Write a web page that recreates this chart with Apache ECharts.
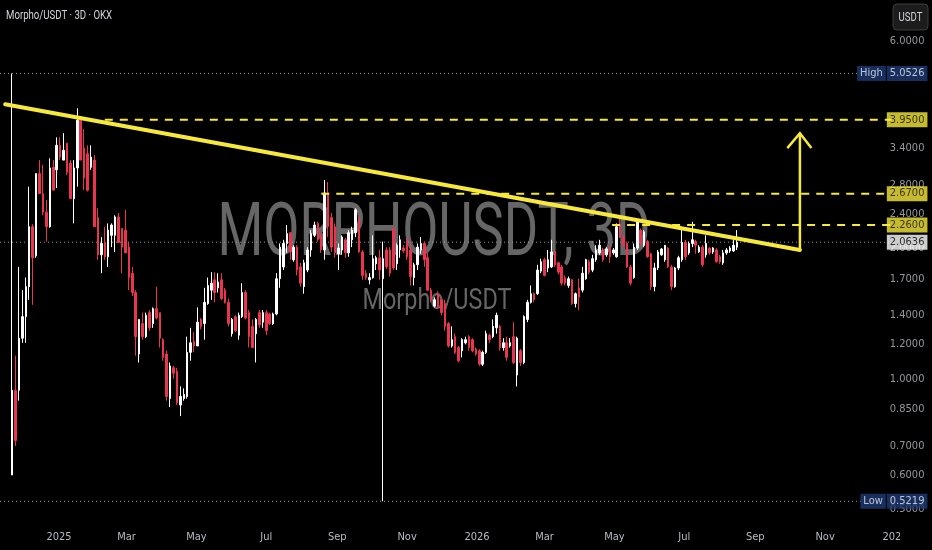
<!DOCTYPE html>
<html><head><meta charset="utf-8">
<script src="https://cdn.jsdelivr.net/npm/echarts@6/dist/echarts.min.js"></script>
<style>html,body{margin:0;padding:0;background:#000;}#c{width:932px;height:550px;}</style>
</head><body><div id="c"></div>
<script>
// ---------- data ----------
const startDate = '2024-11-21';
const stepDays = 3;
const opens = [
0.60,0.94,0.94,1.24,1.39,1.63,2.24,1.92,2.97,2.67,
2.42,2.24,3.07,3.03,3.45,3.19,3.49,3.14,2.60,3.06,
3.94,3.40,3.30,3.07,3.19,2.35,1.93,2.06,1.91,2.14,
2.14,2.36,2.22,2.20,2.01,1.75,1.58,1.14,1.34,1.25,
1.42,1.34,1.45,1.42,1.23,1.14,0.90,1.06,1.04,0.87,
0.90,0.91,1.15,1.22,1.19,1.37,1.34,1.49,1.60,1.69,
1.62,1.69,1.60,1.50,1.27,1.39,1.26,1.39,
1.58,1.42,1.32,1.27,1.42,1.35,1.42,1.41,1.34,1.41,
1.70,1.81,2.05,2.17,1.88,2.01,1.81,1.63,1.78,1.98,
2.14,2.28,2.14,1.98,2.68,2.35,
2.24,1.94,1.98,2.09,1.95,2.09,2.17,2.34,1.96,1.75,
1.69,1.71,1.84,1.90,1.70,1.98,1.98,2.22,1.84,1.98,
2.00,2.09,1.98,1.71,1.83,1.98,
2.05,1.90,1.60,1.47,1.57,1.52,1.49,1.34,1.19,1.25,
1.18,1.16,1.21,1.25,1.23,1.17,1.16,1.08,1.15,1.26,
1.25,1.31,
1.32,1.18,1.21,1.19,1.25,1.02,1.16,1.09,1.37,1.50,
1.57,1.57,1.77,1.88,1.80,1.81,1.96,1.85,1.81,1.71,
1.64,1.69,1.49,1.62,1.60,1.70,1.86,1.78,1.88,1.95,
1.98,1.93,2.00,1.95,1.91,2.26,2.12,2.05,1.81,1.71,
2.00,2.20,2.03,2.07,1.94,1.63,1.80,1.93,1.88,2.00,
1.81,1.63,1.80,1.88,2.06,1.95,2.05,2.07,1.96,2.01,
1.93,2.00,1.96,1.98,1.91,1.85,1.95,1.97,1.97,2.01];
const closes = [
0.94,0.72,1.24,1.39,1.63,2.24,1.90,2.97,2.67,2.42,
2.24,3.06,2.72,3.45,3.24,3.36,2.99,2.60,3.06,3.94,
3.19,2.90,2.72,3.24,2.24,1.93,2.05,1.91,2.20,2.26,
2.36,2.06,2.01,1.95,1.71,1.58,1.25,1.37,1.25,1.40,
1.31,1.45,1.38,1.24,1.12,0.91,1.07,1.03,0.88,0.91,
0.92,1.15,1.21,1.19,1.35,1.32,1.50,1.64,1.66,1.58,
1.67,1.53,1.50,1.34,1.37,1.29,1.40,1.58,
1.38,1.25,1.18,1.37,1.33,1.42,1.29,1.34,1.41,1.70,
2.01,2.05,2.16,1.96,2.01,1.78,1.66,1.85,1.98,2.16,
2.26,2.09,1.98,2.68,2.24,2.01,
1.95,2.00,2.12,1.95,2.17,2.20,2.45,1.96,1.73,1.71,
1.71,1.89,1.90,1.78,1.89,1.81,1.75,1.80,2.03,2.09,
1.97,1.91,1.72,1.83,2.01,2.05,
1.88,1.60,1.52,1.52,1.47,1.42,1.32,1.19,1.23,1.15,
1.10,1.23,1.23,1.18,1.16,1.14,1.08,1.15,1.27,1.23,
1.32,1.40,
1.18,1.21,1.12,1.21,1.09,1.24,1.09,1.39,1.50,1.57,
1.52,1.78,1.86,1.73,1.88,1.96,1.83,1.76,1.66,1.66,
1.70,1.49,1.57,1.54,1.75,1.88,1.76,1.89,1.98,2.03,
1.88,1.99,1.91,1.98,2.24,2.12,2.03,1.81,1.66,2.01,
2.30,2.05,2.18,1.91,1.63,1.80,1.96,1.99,2.03,1.81,
1.63,1.80,1.90,2.06,1.91,2.05,2.09,2.03,2.01,1.83,
2.05,1.95,2.00,1.86,1.86,1.95,1.98,2.00,2.03,2.0636];
const lows = [
0.60,0.70,0.89,1.21,1.21,1.52,1.48,1.90,2.67,2.38,
2.07,2.23,2.72,2.75,3.19,3.19,2.95,2.60,2.28,2.77,
3.19,2.72,2.70,3.03,2.24,1.88,1.75,1.88,1.81,2.01,
1.96,2.06,1.75,1.95,1.60,1.55,1.13,1.09,1.23,1.24,
1.29,1.31,1.37,1.18,1.10,0.89,0.86,1.00,0.87,0.82,
0.89,0.90,1.10,1.15,1.19,1.30,1.23,1.48,1.52,1.50,
1.58,1.52,1.49,1.32,1.25,1.28,1.23,1.38,
1.37,1.18,1.18,1.09,1.31,1.31,1.26,1.33,1.33,1.40,
1.62,1.78,1.95,1.88,1.86,1.73,1.63,1.57,1.76,1.91,
2.12,2.07,1.95,1.88,2.12,1.96,
1.90,1.78,1.93,1.90,1.91,2.01,2.12,1.95,1.69,1.69,
1.65,1.70,1.78,1.69,0.5219,1.79,1.72,1.78,1.78,1.90,
1.95,1.88,1.64,1.64,1.78,1.94,
1.81,1.59,1.50,1.46,1.45,1.40,1.29,1.18,1.18,1.14,
1.09,1.12,1.20,1.16,1.15,1.13,1.07,1.07,1.14,1.21,
1.24,1.27,
1.16,1.16,1.10,1.18,1.08,0.96,1.07,1.08,1.35,1.49,
1.50,1.56,1.75,1.72,1.76,1.80,1.81,1.74,1.64,1.64,
1.62,1.48,1.46,1.44,1.58,1.69,1.74,1.76,1.86,1.93,
1.86,1.91,1.85,1.93,1.90,2.11,2.01,1.80,1.64,1.70,
1.98,2.03,2.01,1.90,1.60,1.59,1.78,1.92,1.86,1.80,
1.60,1.62,1.78,1.86,1.88,1.93,2.01,1.94,1.95,1.81,
1.90,1.93,1.94,1.85,1.84,1.83,1.93,1.95,1.96,1.98];
const highs = [
5.0526,1.13,1.81,1.60,1.71,2.77,2.27,2.97,3.19,3.11,
2.58,3.22,3.19,3.60,3.60,3.68,3.49,3.19,3.19,4.20,
4.00,3.76,3.45,3.45,3.28,2.47,2.12,2.24,2.28,2.28,
2.38,2.41,2.22,2.45,2.06,1.81,1.60,1.37,1.42,1.42,
1.44,1.46,1.63,1.42,1.24,1.16,1.09,1.07,1.06,0.96,
0.95,1.25,1.31,1.28,1.46,1.38,1.62,1.71,1.76,1.76,
1.75,1.75,1.62,1.53,1.38,1.40,1.42,1.66,
1.60,1.44,1.37,1.38,1.44,1.44,1.44,1.42,1.42,1.75,
2.05,2.09,2.26,2.17,2.03,2.03,1.85,1.88,2.01,2.20,
2.30,2.30,2.16,2.87,2.84,2.41,
2.28,2.05,2.14,2.11,2.20,2.24,2.47,2.36,1.98,1.78,
1.75,2.14,1.92,1.98,2.07,2.01,2.01,2.24,2.05,2.14,
2.03,2.11,2.05,1.85,2.05,2.12,
2.07,1.95,1.62,1.54,1.59,1.53,1.52,1.35,1.32,1.27,
1.19,1.24,1.25,1.26,1.24,1.18,1.17,1.16,1.29,1.27,
1.37,1.42,
1.33,1.24,1.25,1.24,1.35,1.25,1.17,1.40,1.52,1.64,
1.58,1.83,1.89,1.90,1.98,2.09,1.98,1.86,1.83,1.73,
1.72,1.70,1.58,1.70,1.81,1.89,1.88,1.93,2.03,2.09,
2.00,2.01,2.03,2.00,2.28,2.34,2.14,2.07,1.83,2.05,
2.32,2.22,2.20,2.09,1.95,1.85,1.98,2.00,2.03,2.01,
1.83,1.81,1.92,2.22,2.09,2.07,2.30,2.09,2.03,2.03,
2.14,2.01,2.01,2.00,1.93,1.98,2.00,2.02,2.09,2.20];

const tickValues = [6.0, 3.4, 2.8, 2.4, 2.0, 1.7, 1.4, 1.2, 1.0, 0.85, 0.7, 0.6, 0.5];
const monthLabels = ['2025','Mar','May','Jul','Sep','Nov','2026','Mar','May','Jul','Sep','Nov','2027'];
const monthDates = ['2025-01-01','2025-03-01','2025-05-01','2025-07-01','2025-09-01','2025-11-01',
                    '2026-01-01','2026-03-01','2026-05-01','2026-07-01','2026-09-01','2026-11-01','2027-01-01'];
const highValue = 5.0526;
const lowValue = 0.5219;
const lastValue = 2.0636;
const levelValues = [3.95, 2.67, 2.26];
const levelStarts = ['2025-02-10', '2025-08-18', '2026-04-29'];
const trendDates = ['2024-11-15', '2026-10-10'];
const trendValues = [4.29, 1.98];
const arrowDates = ['2026-10-10', '2026-10-10'];
const arrowValues = [1.98, 3.68];
const arrowHeadDates = ['2026-09-29', '2026-10-10', '2026-10-20'];
const arrowHeadValues = [3.40, 3.68, 3.40];

// ---------- layout / style ----------
const T = s => Date.parse(s.length > 10 ? s : s + 'T00:00:00Z');
const DAY = 86400000;
const X_MIN = T('2024-11-10T12:00:00Z');
const X_MAX = T('2027-02-02T08:00:00Z');
const Y_MIN = 0.4725, Y_MAX = 7.46;
const LABEL_X = T('2027-01-29T19:00:00Z');
const LEVEL_END = T('2026-12-29');
const HL_END = T('2026-12-08');
const LAST_END = T('2026-12-30');
const UP = '#ffffff', DOWN = '#ea3550', YEL = '#f7e93a';
const AXIS_TXT = '#b8bbc2';
const FONT = "'Liberation Sans Narrow','DejaVu Sans Condensed',Roboto,sans-serif";

const t0 = T(startDate);
const candleData = opens.map((o, i) => [t0 + i * stepDays * DAY, o, closes[i], lows[i], highs[i]]);

const hline = (v, x0, x1) => [[x0, v], [x1, v]];
const series = [];

series.push({
  type: 'candlestick', name: 'MORPHOUSDT', data: candleData,
  encode: { x: 0, y: [1, 2, 3, 4] },
  barWidth: 2, z: 2,
  itemStyle: { color: UP, color0: DOWN, borderColor: UP, borderColor0: DOWN, borderWidth: 1 }
});

// time-axis labels (placed at month dates through the x scale)
series.push({
  type: 'line', data: [], silent: true, z: 5,
  markLine: {
    silent: true, symbol: 'none', animation: false,
    lineStyle: { color: 'rgba(0,0,0,0)', width: 1, type: 'solid' },
    label: { show: true, position: 'start', distance: 12, color: AXIS_TXT, fontSize: 11, fontFamily: FONT,
             formatter: p => monthLabels[p.dataIndex] },
    data: monthDates.map(d => [{ coord: [T(d), Y_MIN] }, { coord: [T(d), Y_MAX] }])
  }
});

// dotted reference lines
[[highValue, HL_END], [lowValue, HL_END], [lastValue, LAST_END]].forEach(([v, e]) => {
  series.push({ type: 'line', data: hline(v, X_MIN, e), symbol: 'none', silent: true, z: 1,
    lineStyle: { color: '#9a9a9a', width: 1, type: [1, 3] } });
});
// yellow dashed levels
levelValues.forEach((v, i) => {
  series.push({ type: 'line', data: hline(v, T(levelStarts[i]), LEVEL_END), symbol: 'none', silent: true, z: 3,
    lineStyle: { color: YEL, width: 2, type: [8, 7] } });
});
// trend line
series.push({ type: 'line', data: trendDates.map((d, i) => [T(d), trendValues[i]]), symbol: 'none', silent: true, z: 4,
  lineStyle: { color: YEL, width: 4, cap: 'round' } });
// arrow
series.push({ type: 'line', data: arrowDates.map((d, i) => [T(d), arrowValues[i]]), symbol: 'none', silent: true, z: 4,
  lineStyle: { color: YEL, width: 2.5 } });
series.push({ type: 'line', data: arrowHeadDates.map((d, i) => [T(d), arrowHeadValues[i]]), symbol: 'none', silent: true, z: 4,
  lineStyle: { color: YEL, width: 2.5, join: 'miter' } });

// price-axis tick labels
series.push({
  type: 'scatter', silent: true, z: 5, symbolSize: 1, itemStyle: { color: 'transparent' },
  data: tickValues.map(v => [LABEL_X, v]),
  label: { show: true, position: 'left', distance: 0, padding: [2, 3], color: AXIS_TXT, fontSize: 11, fontFamily: FONT,
           formatter: p => p.value[1].toFixed(4) }
});
// highlighted price boxes
const boxItems = [];
levelValues.forEach(v => boxItems.push({ value: [LABEL_X, v],
  label: { backgroundColor: YEL, color: '#111', formatter: v.toFixed(4) } }));
boxItems.push({ value: [LABEL_X, lastValue], label: { backgroundColor: '#ffffff', color: '#000', formatter: lastValue.toFixed(4) } });
const navy = { backgroundColor: '#1e3a74', color: '#e3e8f2', padding: [2, 3], fontSize: 11, fontFamily: FONT, lineHeight: 11 };
[['High', highValue], ['Low', lowValue]].forEach(([tag, v]) => boxItems.push({ value: [LABEL_X, v],
  label: { formatter: '{t|' + tag + '}{g|}{v|' + v.toFixed(4) + '}', padding: 0,
           rich: { t: navy, g: { width: 1, height: 15 }, v: navy } } }));
series.push({
  type: 'scatter', silent: true, z: 6, symbolSize: 1, itemStyle: { color: 'transparent' },
  data: boxItems,
  label: { show: true, position: 'left', distance: 0, padding: [2, 3], fontSize: 11, fontFamily: FONT, lineHeight: 11 }
});

const chart = echarts.init(document.getElementById('c'), null, { renderer: 'canvas' });
chart.setOption({
  backgroundColor: '#000',
  animation: false,
  grid: { left: 0, right: 0, top: 0, bottom: 30, containLabel: false },
  xAxis: { type: 'time', min: X_MIN, max: X_MAX, show: false },
  yAxis: { type: 'log', logBase: 10, min: Y_MIN, max: Y_MAX, show: false },
  series: series,
  graphic: [
    { type: 'text', x: 434, y: 236, scaleX: 0.70, z: 0, silent: true,
      style: { text: 'MORPHOUSDT, 3D', font: '75px Roboto, sans-serif', fill: '#666666', align: 'center', verticalAlign: 'middle' } },
    { type: 'text', x: 437, y: 301, scaleX: 0.78, z: 0, silent: true,
      style: { text: 'Morpho/USDT', font: '30px Roboto, sans-serif', fill: '#666666', align: 'center', verticalAlign: 'middle' } },
    { type: 'text', x: 6, y: 16, scaleX: 0.74, z: 10, silent: true,
      style: { text: 'Morpho/USDT · 3D · OKX', font: '13px Roboto, sans-serif', fill: '#d1d4dc', align: 'left', verticalAlign: 'middle' } },
    { type: 'rect', z: 10, silent: true, shape: { x: 893, y: 4, width: 35, height: 26, r: 4 },
      style: { fill: '#1c1c1c', stroke: '#3c3c3c', lineWidth: 1 } },
    { type: 'text', x: 910.5, y: 17.5, scaleX: 0.8, z: 11, silent: true,
      style: { text: 'USDT', font: '12px Roboto, sans-serif', fill: '#d1d4dc', align: 'center', verticalAlign: 'middle' } },
    { type: 'rect', z: 100, silent: true, shape: { x: 900, y: 522, width: 32, height: 28 }, style: { fill: '#000' } }
  ]
});
</script></body></html>
